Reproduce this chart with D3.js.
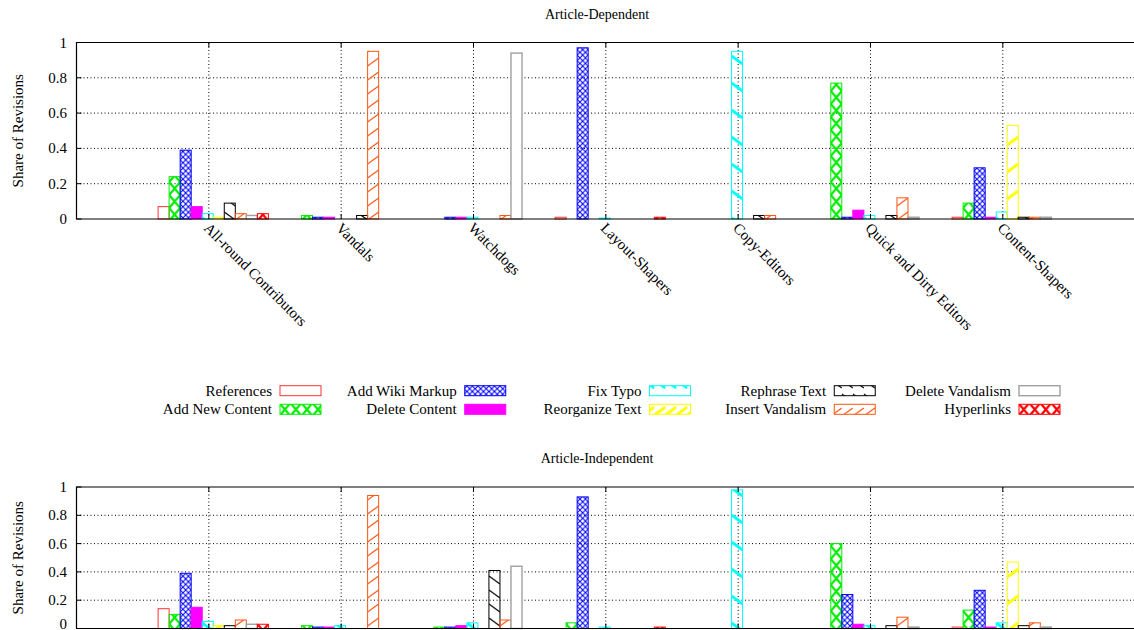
<!DOCTYPE html>
<html>
<head>
<meta charset="utf-8">
<script src="https://cdn.jsdelivr.net/npm/d3@7"></script>
<style>
  body { margin: 0; background: #fff; }
  text { font-family: "Liberation Serif", "Times New Roman", serif; fill: #000; }
</style>
</head>
<body>
<div id="chart"></div>
<script>
// categories (x axis)
const categories = ["All-round Contributors", "Vandals", "Watchdogs", "Layout-Shapers",
    "Copy-Editors", "Quick and Dirty Editors", "Content-Shapers"];

const seriesNames = ["References", "Add New Content", "Add Wiki Markup", "Delete Content", "Fix Typo",
    "Reorganize Text", "Rephrase Text", "Insert Vandalism", "Delete Vandalism", "Hyperlinks"];

const seriesColors = ["#ff3333", "#00ee00", "#0000ff", "#ff00ff", "#00ffff",
    "#ffff00", "#000000", "#ff5511", "#a0a0a0", "#ff0000"];

const seriesPatterns = ["empty", "xbig", "xfine", "solid", "bsThick",
    "sThick", "bsThin", "sThin", "empty", "xbig"];

// Article-Dependent, one array per series (values per category)
const depReferences      = [0.07, 0,    0,    0.01,  0,    0,    0.01];
const depAddNewContent   = [0.24, 0.02, 0,    0,     0,    0.77, 0.09];
const depAddWikiMarkup   = [0.39, 0.01, 0.01, 0.97,  0,    0.01, 0.29];
const depDeleteContent   = [0.07, 0.01, 0.01, 0,     0,    0.05, 0.01];
const depFixTypo         = [0.03, 0,    0.01, 0.005, 0.95, 0.02, 0.04];
const depReorganizeText  = [0.01, 0,    0,    0,     0,    0,    0.53];
const depRephraseText    = [0.09, 0.02, 0,    0,     0.02, 0.02, 0.01];
const depInsertVandalism = [0.03, 0.95, 0.02, 0,     0.02, 0.12, 0.01];
const depDeleteVandalism = [0.02, 0,    0.94, 0,     0,    0.01, 0.01];
const depHyperlinks      = [0.03, 0,    0,    0.01,  0,    0,    0];

// Article-Independent
const indReferences      = [0.14, 0,    0,    0,    0,    0,    0.01];
const indAddNewContent   = [0.10, 0.02, 0.01, 0.04, 0,    0.60, 0.13];
const indAddWikiMarkup   = [0.39, 0.01, 0.01, 0.93, 0,    0.24, 0.27];
const indDeleteContent   = [0.15, 0.01, 0.02, 0,    0,    0.03, 0.01];
const indFixTypo         = [0.05, 0.02, 0.04, 0.01, 0.98, 0.02, 0.04];
const indReorganizeText  = [0.02, 0,    0,    0,    0,    0,    0.47];
const indRephraseText    = [0.02, 0,    0.41, 0,    0,    0.02, 0.02];
const indInsertVandalism = [0.06, 0.94, 0.06, 0,    0,    0.08, 0.04];
const indDeleteVandalism = [0.03, 0,    0.44, 0,    0,    0.01, 0.01];
const indHyperlinks      = [0.03, 0,    0,    0.01, 0,    0,    0];

const yTicks = [0, 0.2, 0.4, 0.6, 0.8, 1];

const depSeries = [depReferences, depAddNewContent, depAddWikiMarkup, depDeleteContent, depFixTypo,
    depReorganizeText, depRephraseText, depInsertVandalism, depDeleteVandalism, depHyperlinks];
const indSeries = [indReferences, indAddNewContent, indAddWikiMarkup, indDeleteContent, indFixTypo,
    indReorganizeText, indRephraseText, indInsertVandalism, indDeleteVandalism, indHyperlinks];

const width = 1134, height = 630;
const svg = d3.select("#chart").append("svg")
    .attr("width", width)
    .attr("height", height);

// x: category index 0..9, ticks at 1..7
const x = d3.scaleLinear().domain([0, 9]).range([76.5, 76.5 + 9 * 132.33]);
const slots = 12;  // 10 bars + gap of 2
const bw = x(1 / slots) - x(0);
const barLeft = (i, j) => x(i + 1 + (j - 4.6) / slots);

// Patterns
const defs = svg.append("defs");
seriesPatterns.forEach((p, j) => {
    const c = seriesColors[j];
    const pat = defs.append("pattern")
        .attr("id", "pat" + j)
        .attr("patternUnits", "userSpaceOnUse")
        .attr("x", barLeft(0, j))
        .attr("y", 0);
    if (p === "xbig") {
        pat.attr("width", bw).attr("height", 13);
        pat.append("path").attr("d", `M0,0L${bw},13M${bw},0L0,13`)
            .attr("stroke", c).attr("stroke-width", 2.2).attr("fill", "none");
    } else if (p === "xfine") {
        pat.attr("width", bw / 2).attr("height", bw / 2);
        pat.append("path").attr("d", `M0,0L${bw / 2},${bw / 2}M${bw / 2},0L0,${bw / 2}`)
            .attr("stroke", c).attr("stroke-width", 1.1).attr("fill", "none");
    } else if (p === "bsThick") {
        pat.attr("width", bw).attr("height", 27);
        pat.append("path").attr("d", `M0,2L${bw},10`)
            .attr("stroke", c).attr("stroke-width", 3).attr("fill", "none");
    } else if (p === "sThick") {
        pat.attr("width", bw).attr("height", 27);
        pat.append("path").attr("d", `M0,10L${bw},2`)
            .attr("stroke", c).attr("stroke-width", 3).attr("fill", "none");
    } else if (p === "bsThin") {
        pat.attr("width", bw).attr("height", 14);
        pat.append("path").attr("d", `M0,2L${bw},10`)
            .attr("stroke", c).attr("stroke-width", 1.2).attr("fill", "none");
    } else if (p === "sThin") {
        pat.attr("width", bw).attr("height", 14);
        pat.append("path").attr("d", `M0,10L${bw},2`)
            .attr("stroke", c).attr("stroke-width", 1.2).attr("fill", "none");
    }
});

function fillFor(j) {
    const p = seriesPatterns[j];
    if (p === "empty") return "#fff";
    if (p === "solid") return seriesColors[j];
    return `url(#pat${j})`;
}

function drawPanel(series, title, titleY, yTop, yBottom, showLabels) {
    const y = d3.scaleLinear().domain([0, 1]).range([yBottom, yTop]);
    const g = svg.append("g");
    const xRight = x(9);

    g.append("text")
        .attr("x", 597)
        .attr("y", titleY)
        .attr("text-anchor", "middle")
        .attr("font-size", "14px")
        .text(title);

    // grid
    g.selectAll(".hgrid")
        .data(yTicks.filter(t => t > 0 && t < 1))
        .join("line")
        .attr("x1", x(0)).attr("x2", xRight)
        .attr("y1", d => y(d)).attr("y2", d => y(d))
        .attr("stroke", "#000").attr("stroke-width", 1)
        .attr("stroke-dasharray", "1,2.5");
    g.selectAll(".vgrid")
        .data(categories)
        .join("line")
        .attr("x1", (d, i) => x(i + 1)).attr("x2", (d, i) => x(i + 1))
        .attr("y1", y(0)).attr("y2", y(1))
        .attr("stroke", "#000").attr("stroke-width", 1)
        .attr("stroke-dasharray", "1,2.5");

    // bars
    series.forEach((vals, j) => {
        g.selectAll(".bar" + j)
            .data(vals.map((v, i) => ({ v, i })).filter(d => d.v > 0))
            .join("rect")
            .attr("x", d => barLeft(d.i, j))
            .attr("y", d => y(d.v))
            .attr("width", bw)
            .attr("height", d => y(0) - y(d.v))
            .attr("fill", fillFor(j))
            .attr("stroke", seriesColors[j])
            .attr("stroke-width", j === 8 ? 1.4 : 1);
    });

    // frame
    g.append("path")
        .attr("d", `M${xRight},${y(1)}H${x(0)}V${y(0)}H${xRight}`)
        .attr("fill", "none").attr("stroke", "#000").attr("stroke-width", 1.2);

    // ticks
    g.selectAll(".ytick")
        .data(yTicks)
        .join("line")
        .attr("x1", x(0)).attr("x2", x(0) + 5)
        .attr("y1", d => y(d)).attr("y2", d => y(d))
        .attr("stroke", "#000");
    g.selectAll(".xtickTop")
        .data(categories)
        .join("line")
        .attr("x1", (d, i) => x(i + 1)).attr("x2", (d, i) => x(i + 1))
        .attr("y1", y(1)).attr("y2", y(1) + 5)
        .attr("stroke", "#000");
    g.selectAll(".xtickBot")
        .data(categories)
        .join("line")
        .attr("x1", (d, i) => x(i + 1)).attr("x2", (d, i) => x(i + 1))
        .attr("y1", y(0)).attr("y2", y(0) - 5)
        .attr("stroke", "#000");

    g.selectAll(".ylab")
        .data(yTicks)
        .join("text")
        .attr("x", 67)
        .attr("y", d => Math.min(y(d) + 5, height - 1))
        .attr("text-anchor", "end")
        .attr("font-size", "15px")
        .text(d => d === 0 ? "0" : d === 1 ? "1" : d3.format(".1f")(d));

    g.append("text")
        .attr("transform", `translate(23,${(y(0) + y(1)) / 2}) rotate(-90)`)
        .attr("text-anchor", "middle")
        .attr("font-size", "15px")
        .text("Share of Revisions");

    if (showLabels) {
        g.selectAll(".xlab")
            .data(categories)
            .join("text")
            .attr("transform", (d, i) => `translate(${x(i + 1) + 2},${y(0) + 2}) rotate(45)`)
            .attr("dy", "0.75em")
            .attr("text-anchor", "start")
            .attr("font-size", "15px")
            .text(d => d);
    }
}

drawPanel(depSeries, "Article-Dependent", 19, 42.5, 219, true);
drawPanel(indSeries, "Article-Independent", 463, 487, 628.5, false);

// legend: 5 columns x 2 rows
const legend = svg.append("g");
seriesNames.forEach((name, j) => {
    const col = Math.floor(j / 2), row = j % 2;
    const bx = 280 + col * 184.75;
    const by = 385.7 + row * 18.6;
    legend.append("text")
        .attr("x", bx - 8)
        .attr("y", by + 10)
        .attr("text-anchor", "end")
        .attr("font-size", "15px")
        .text(name);
    legend.append("rect")
        .attr("x", bx).attr("y", by)
        .attr("width", 41).attr("height", 10)
        .attr("fill", fillFor(j))
        .attr("stroke", seriesColors[j])
        .attr("stroke-width", j === 8 ? 1.4 : 1);
});
</script>
</body>
</html>
